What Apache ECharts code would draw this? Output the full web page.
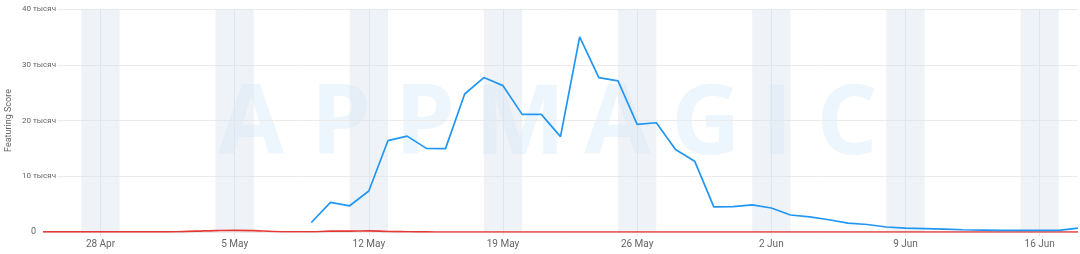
<!DOCTYPE html>
<html>
<head>
<meta charset="utf-8">
<script src="https://cdn.jsdelivr.net/npm/echarts@6/dist/echarts.min.js"></script>
<style>html,body{margin:0;padding:0;background:#fff}#c{width:1080px;height:254px}</style>
</head>
<body>
<div id="c"></div>
<script>
// Dates: 25 Apr .. 18 Jun (daily)
const startDate = [2024, 3, 25];
const dayCount = 55;
const weekLabels = { '28 Apr':1, '5 May':1, '12 May':1, '19 May':1, '26 May':1, '2 Jun':1, '9 Jun':1, '16 Jun':1 };
const months = ['Jan','Feb','Mar','Apr','May','Jun','Jul','Aug','Sep','Oct','Nov','Dec'];
// Weekend bands (Sat..Mon) as category labels
const weekendStarts = ['27 Apr','4 May','11 May','18 May','25 May','1 Jun','8 Jun','15 Jun'];
const weekendEnds   = ['29 Apr','6 May','13 May','20 May','27 May','3 Jun','10 Jun','17 Jun'];

// Featuring score (thousands)
const blueValues = [null,null,null,null,null,null,null,null,null,null,null,null,null,null,
  1.7,5.3,4.7,7.35,16.4,17.2,15.0,14.95,24.75,27.7,26.25,21.1,21.1,17.1,35.0,27.7,27.1,19.3,19.6,14.8,12.7,4.5,4.55,
  4.85,4.3,3.05,2.7,2.2,1.6,1.35,0.9,0.7,0.6,0.5,0.4,0.35,0.3,0.3,0.3,0.3,0.7];
const redValues = [0.02,0.02,0.02,0.02,0.02,0.02,0.02,0.05,0.15,0.25,0.3,0.25,0.1,0.05,
  0.05,0.15,0.15,0.2,0.1,0.05,0.02,0.01,0,0,0,0,0,0,0,0,0,0,0,0,0,0,0,
  0,0,0,0,0,0,0,0,0,0,0,0,0,0,0,0,0,0];
const yTicks = [0,10,20,30,40];
const yUnit = 'тысяч';
const watermark = ['A','P','P','M','A','G','I','C'];
const watermarkX = [251,341,425,520,617,706,777,847];

const categories = [];
for (let i = 0; i < dayCount; i++) {
  const d = new Date(startDate[0], startDate[1], startDate[2] + i);
  categories.push(d.getDate() + ' ' + months[d.getMonth()]);
}

const chart = echarts.init(document.getElementById('c'), null, {renderer:'canvas'});
const graphics = watermark.map((ch, i) => ({
  type:'text', silent:true, z:0, x: watermarkX[i], y: 127,
  style:{ text: ch, fill:'rgba(30,136,229,0.075)', font:'bold 96px "Open Sans"', align:'center', verticalAlign:'middle' }
}));

chart.setOption({
  animation:false,
  graphic: graphics,
  grid:{ left:43, right:2, top:9, bottom:22, containLabel:false, outerBoundsMode:'none' },
  xAxis:{
    type:'category', data:categories, boundaryGap:false,
    axisLine:{ show:false },
    axisTick:{ show:true, length:4, lineStyle:{color:'#e3e8ef'}, interval:(i,v)=>!!weekLabels[v] },
    axisLabel:{ color:'#666', fontSize:10, fontFamily:'Roboto', margin:7, interval:(i,v)=>!!weekLabels[v] },
    splitLine:{ show:true, lineStyle:{color:'#e3e8ef', width:1}, interval:(i,v)=>!!weekLabels[v] }
  },
  yAxis:{
    type:'value', min:yTicks[0], max:yTicks[yTicks.length-1], interval:10,
    name:'Featuring Score', nameLocation:'middle', nameGap:30, nameMoveOverlap:false,
    nameTextStyle:{ color:'#666', fontSize:9, fontFamily:'Roboto' },
    axisLine:{show:false}, axisTick:{show:false},
    axisLabel:{ color:'#666', fontSize:8, fontFamily:'Roboto', margin:-14,
      formatter:v => v === 0 ? '{z|0}' : '{a|' + v + ' ' + yUnit + '}',
      rich:{
        a:{ color:'#666', fontSize:8, fontFamily:'Roboto', backgroundColor:'#fff', padding:[0,1,0,1] },
        z:{ color:'#666', fontSize:9, fontFamily:'Roboto', padding:[0,21,0,0] }
      } },
    splitLine:{ lineStyle:{ color:'#ebebeb', width:1 } }
  },
  series:[
    { type:'line', data:redValues, symbol:'none', smooth:true, z:3,
      lineStyle:{ color:'#e53935', width:1.6 },
      markArea:{ silent:true, itemStyle:{ color:'rgba(215,225,236,0.4)' },
        data: weekendStarts.map((s,i)=>[{xAxis:s},{xAxis:weekendEnds[i]}]) } },
    { type:'line', data:blueValues, symbol:'none', z:4, connectNulls:false,
      lineStyle:{ color:'#2196f3', width:1.7 } }
  ]
});
</script>
</body>
</html>
